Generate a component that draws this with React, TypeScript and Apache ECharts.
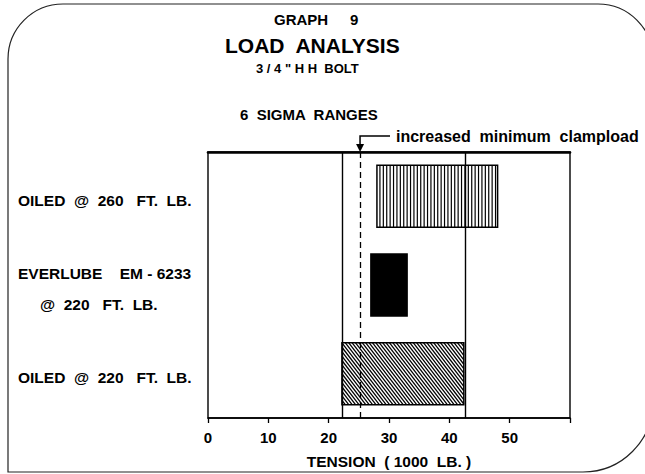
import React, { useEffect, useRef } from 'react';
import * as echarts from 'echarts';

// ---- data ----
const categories = ['OILED  @  260   FT.  LB.', 'EVERLUBE    EM - 6233', 'OILED  @  220   FT.  LB.'];
const everlubeSecondLine = '@  220   FT.  LB.';
const rangeStart = [28, 27, 22.2];
const rangeEnd = [48, 33, 42.4];
const fillKinds = ['vertical', 'solid', 'diagonal'];
const xTickLabels = [0, 10, 20, 30, 40, 50];
const rangeLines = [22.3, 42.6];
const clampload = 25.2;
const titleLines = ['GRAPH', '9', 'LOAD  ANALYSIS', '3 / 4 " H H  BOLT', '6  SIGMA  RANGES'];
const annotationText = 'increased  minimum  clampload';
const xAxisName = 'TENSION  ( 1000  LB. )';

const FONT = '"Liberation Sans", Arial, Helvetica, sans-serif';

const renderItem = (params: any, api: any) => {
  const i = params.dataIndex;
  const cat = api.value(0);
  const p0 = api.coord([api.value(1), cat]);
  const p1 = api.coord([api.value(2), cat]);
  const bandH = api.size([0, 1])[1];
  const h = bandH * 0.7;
  const x0 = p0[0];
  const w = p1[0] - x0;
  const y0 = p0[1] - h / 2;
  const kind = fillKinds[i];
  const children: any[] = [];
  children.push({
    type: 'rect',
    shape: { x: x0, y: y0, width: w, height: h },
    style: { fill: kind === 'solid' ? '#000' : '#fff', stroke: '#000', lineWidth: 1.5 },
  });
  if (kind === 'vertical') {
    for (let u = 3; u < w - 1; u += 3.4) {
      children.push({
        type: 'line',
        shape: { x1: x0 + u, y1: y0, x2: x0 + u, y2: y0 + h },
        style: { stroke: '#000', lineWidth: 1.2 },
      });
    }
  }
  if (kind === 'diagonal') {
    const k = 1.3;
    const span = h / k;
    for (let c = -span; c < w; c += 3.4) {
      let uS = c, vS = 0;
      if (uS < 0) { vS = -c * k; uS = 0; }
      let uE = c + h / k, vE = h;
      if (uE > w) { uE = w; vE = (w - c) * k; }
      if (vS >= vE) continue;
      children.push({
        type: 'line',
        shape: { x1: x0 + uS, y1: y0 + vS, x2: x0 + uE, y2: y0 + vE },
        style: { stroke: '#000', lineWidth: 1.3 },
      });
    }
  }
  return { type: 'group', children };
};

export default function App() {
  const ref = useRef<HTMLDivElement>(null);
  useEffect(() => {
    if (!ref.current) return;
    const chart = echarts.init(ref.current, null, { renderer: 'svg' });
    const labelStyle = { fontFamily: FONT, fontWeight: 'bold' as const, color: '#000' };
    chart.setOption({
      animation: false,
      backgroundColor: '#fff',
      grid: { left: 208, right: 75, top: 152, bottom: 54, show: true, borderColor: '#000', borderWidth: 1.4 },
      xAxis: [
        {
          type: 'value', min: 0, max: 60, interval: 10,
          axisLine: { show: true, lineStyle: { color: '#000', width: 1.5 } },
          axisTick: { show: true, length: 5, lineStyle: { color: '#000', width: 1.3 } },
          splitLine: { show: false },
          axisLabel: {
            ...labelStyle, fontSize: 15, margin: 12,
            formatter: (v: number) => (xTickLabels.includes(v) ? String(v) : ''),
          },
          name: xAxisName, nameLocation: 'middle', nameGap: 35,
          nameTextStyle: { ...labelStyle, fontSize: 15.5 },
        },
        {
          type: 'value', min: 0, max: 60, position: 'top',
          axisLine: { show: true, lineStyle: { color: '#000', width: 2.6 } },
          axisTick: { show: false }, axisLabel: { show: false }, splitLine: { show: false },
        },
      ],
      yAxis: {
        type: 'category', data: categories, inverse: true,
        axisLine: { show: false }, axisTick: { show: false }, splitLine: { show: false },
        axisLabel: {
          align: 'left', margin: 190, padding: [8, 0, 0, 0],
          formatter: (v: string) => (v === categories[1] ? `{c|${v}}\n{b|${everlubeSecondLine}}` : `{a|${v}}`),
          rich: {
            a: { ...labelStyle, fontSize: 15.5 },
            c: { ...labelStyle, fontSize: 15.5, lineHeight: 31 },
            b: { ...labelStyle, fontSize: 15.5, lineHeight: 31, padding: [0, 0, 0, 22] },
          },
        },
      },
      series: [
        {
          type: 'custom', renderItem,
          encode: { x: [1, 2], y: 0 },
          data: categories.map((_, i) => [i, rangeStart[i], rangeEnd[i]]),
          markLine: {
            silent: true, symbol: 'none', label: { show: false },
            data: [
              ...rangeLines.map((x) => ({ xAxis: x, lineStyle: { type: 'solid', color: '#000', width: 1.4 } })),
              { xAxis: clampload, lineStyle: { type: [6, 4], color: '#000', width: 1.3 } },
            ],
          },
        },
      ],
    });
    const ax = chart.convertToPixel({ xAxisIndex: 0 }, clampload) as number;
    const ty = 136;
    chart.setOption({
      graphic: [
        {
          type: 'rect', silent: true,
          shape: { x: 8, y: 4, width: 645, height: 468, r: [55, 55, 70, 0] },
          style: { fill: 'none', stroke: '#222', lineWidth: 1.2 },
        },
        { type: 'text', x: 274, y: 19, style: { text: titleLines[0], fill: '#000', font: `bold 15px ${FONT}`, verticalAlign: 'middle' } },
        { type: 'text', x: 350, y: 19, style: { text: titleLines[1], fill: '#000', font: `bold 15px ${FONT}`, verticalAlign: 'middle' } },
        { type: 'text', x: 225, y: 45, style: { text: titleLines[2], fill: '#000', font: `bold 21px ${FONT}`, verticalAlign: 'middle' } },
        { type: 'text', x: 256, y: 68, style: { text: titleLines[3], fill: '#000', font: `bold 13px ${FONT}`, verticalAlign: 'middle' } },
        { type: 'text', x: 240, y: 114.5, style: { text: titleLines[4], fill: '#000', font: `bold 15px ${FONT}`, verticalAlign: 'middle' } },
        { type: 'text', x: 396, y: ty, style: { text: annotationText, fill: '#000', font: `bold 16px ${FONT}`, verticalAlign: 'middle' } },
        {
          type: 'polyline', silent: true,
          shape: { points: [[390, ty], [ax, ty], [ax, 146]] },
          style: { stroke: '#000', lineWidth: 1.5, fill: 'none' },
        },
        {
          type: 'polygon', silent: true,
          shape: { points: [[ax - 4, 144], [ax + 4, 144], [ax, 152]] },
          style: { fill: '#000' },
        },
      ],
    });
    return () => chart.dispose();
  }, []);
  return <div ref={ref} style={{ width: 645, height: 474, position: 'absolute', left: 0, top: 0 }} />;
}
